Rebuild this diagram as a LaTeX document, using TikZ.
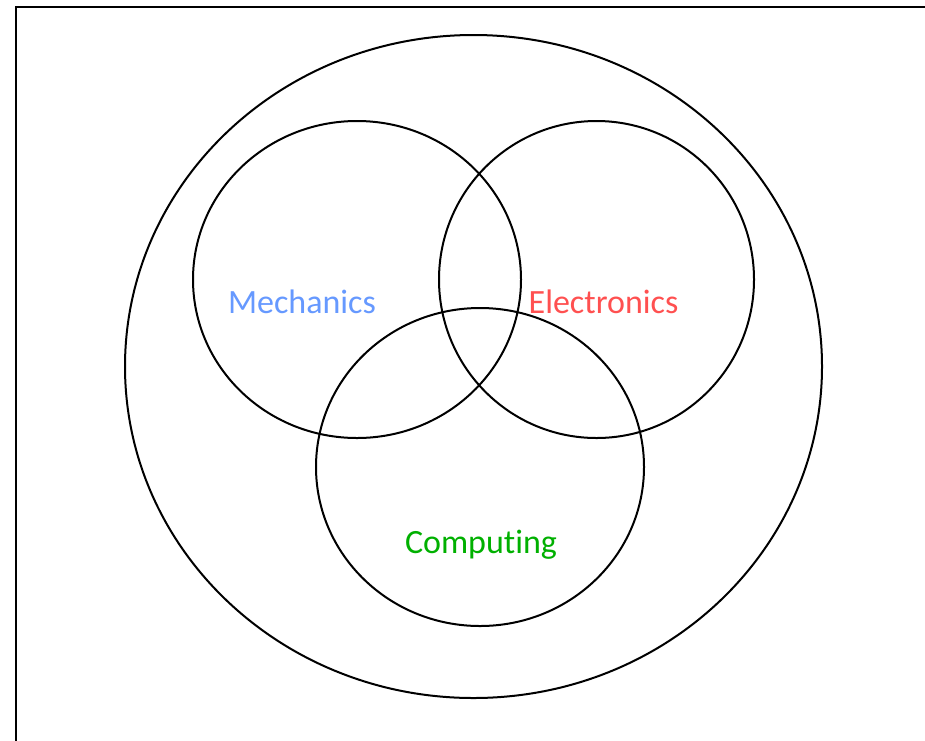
\documentclass[tikz,border=0pt]{standalone}
\usepackage{fontspec}
\setmainfont[Ligatures=NoCommon]{Carlito}
\definecolor{mechblue}{RGB}{102,153,255}
\definecolor{elecred}{RGB}{255,80,80}
\definecolor{compgreen}{RGB}{0,176,0}
\begin{document}
\begin{tikzpicture}[x=1pt,y=-1pt,
  ring/.style={draw=black,line width=2pt},
  lbl/.style={font=\fontsize{34}{40}\selectfont,inner sep=0pt}]
\useasboundingbox (0,0) rectangle (925,740);
\clip (0,0) rectangle (925,740);
\fill[white] (0,0) rectangle (925,740);
\draw[line width=2.6pt] (16,7) rectangle (960,780);
\draw[ring] (473.5,366.5) ellipse [x radius=348.5, y radius=331.5];
\draw[ring] (357,279.5) ellipse [x radius=164, y radius=158.5];
\draw[ring] (596.5,279.5) ellipse [x radius=157.5, y radius=158.5];
\draw[ring] (480,467) ellipse [x radius=164, y radius=159];
\node[lbl,text=mechblue] (mech) at (302,302) {Mechanics};
\node[lbl,text=elecred] (elec) at (603.5,302) {Electronics};
\node[lbl,text=compgreen] (comp) at (481,544.5) {Computing};
\end{tikzpicture}
\end{document}
